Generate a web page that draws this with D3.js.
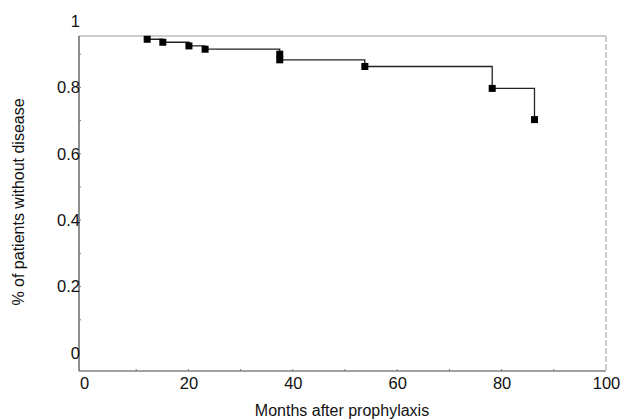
<!DOCTYPE html>
<html>
<head>
<meta charset="utf-8">
<script src="https://cdnjs.cloudflare.com/ajax/libs/d3/7.8.5/d3.min.js"></script>
<style>
  body { margin: 0; background: #fff; }
  svg text { font-family: "Liberation Sans", Arial, sans-serif; fill: #111; }
</style>
</head>
<body>
<svg id="chart" width="629" height="420"></svg>
<script>
// event times (months) and survival after each event
var eventMonths = [12.1, 15.1, 20.1, 23.2, 37.5, 37.5, 53.8, 78.2, 86.3];
var survival    = [0.945, 0.936, 0.925, 0.915, 0.900, 0.883, 0.863, 0.797, 0.703];

var xTicks = [0, 20, 40, 60, 80, 100];
var yTicks = [0, 0.2, 0.4, 0.6, 0.8, 1];

var svg = d3.select("#chart");

// ---------------------------//
//       AXIS  AND SCALE      //
// ---------------------------//

var x = d3.scaleLinear().domain([0, 100]).range([84, 606]);
var y = d3.scaleLinear().domain([0, 1]).range([353, 21]);

var boxLeft = 79, boxRight = 606, boxTop = 36, boxBottom = 371;

// frame: top and right are faint in the original
svg.append("line")
  .attr("x1", boxLeft).attr("x2", boxRight)
  .attr("y1", boxTop).attr("y2", boxTop)
  .attr("stroke", "#999").attr("stroke-width", 1);
svg.append("line")
  .attr("x1", boxRight).attr("x2", boxRight)
  .attr("y1", boxTop).attr("y2", boxBottom)
  .attr("stroke", "#999").attr("stroke-width", 1)
  .style("stroke-dasharray", "6,2");

// left and bottom axis lines
svg.append("line")
  .attr("x1", boxLeft).attr("x2", boxLeft)
  .attr("y1", boxTop).attr("y2", boxBottom)
  .attr("stroke", "#444").attr("stroke-width", 1.2);
svg.append("line")
  .attr("x1", boxLeft).attr("x2", boxRight)
  .attr("y1", boxBottom).attr("y2", boxBottom)
  .attr("stroke", "#444").attr("stroke-width", 1.2);

// minor ticks inside the frame
svg.append("g")
  .selectAll("line")
  .data(d3.range(0.1, 1, 0.1))
  .enter()
  .append("line")
  .attr("x1", boxLeft).attr("x2", boxLeft + 2)
  .attr("y1", function(d) { return y(d); })
  .attr("y2", function(d) { return y(d); })
  .attr("stroke", "#777");
svg.append("g")
  .selectAll("line")
  .data(d3.range(10, 100, 10))
  .enter()
  .append("line")
  .attr("x1", function(d) { return x(d); })
  .attr("x2", function(d) { return x(d); })
  .attr("y1", boxBottom).attr("y2", boxBottom - 2)
  .attr("stroke", "#777");

// X axis labels
var xAxis = svg.append("g")
  .attr("transform", "translate(0," + boxBottom + ")")
  .call(d3.axisBottom(x).tickValues(xTicks).tickSize(0).tickPadding(6));
xAxis.select(".domain").remove();
xAxis.selectAll("text").style("font-size", "16.5px");

// Y axis labels
var yAxis = svg.append("g")
  .attr("transform", "translate(" + (boxLeft + 1) + ",0)")
  .call(d3.axisLeft(y).tickValues(yTicks).tickSize(0).tickPadding(0)
    .tickFormat(d3.format("~g")));
yAxis.select(".domain").remove();
yAxis.selectAll("text").style("font-size", "16.5px");

// axis titles
svg.append("text")
  .attr("x", 342)
  .attr("y", 416)
  .attr("text-anchor", "middle")
  .style("font-size", "16px")
  .text("Months after prophylaxis");

svg.append("text")
  .attr("transform", "translate(24,202) rotate(-90)")
  .attr("text-anchor", "middle")
  .style("font-size", "16px")
  .text("% of patients without disease");

// ---------------------------//
//       STEP CURVE           //
// ---------------------------//

var points = eventMonths.map(function(t, i) { return [t, survival[i]]; });

var step = d3.line()
  .x(function(d) { return x(d[0]); })
  .y(function(d) { return y(d[1]); })
  .curve(d3.curveStepAfter);

svg.append("path")
  .datum(points)
  .attr("d", step)
  .attr("fill", "none")
  .attr("stroke", "#222")
  .attr("stroke-width", 1.3);

// markers
var size = 7;
svg.append("g")
  .selectAll("rect")
  .data(points)
  .enter()
  .append("rect")
  .attr("x", function(d) { return x(d[0]) - size / 2; })
  .attr("y", function(d) { return y(d[1]) - size / 2; })
  .attr("width", size)
  .attr("height", size)
  .attr("fill", "#000");
</script>
</body>
</html>
